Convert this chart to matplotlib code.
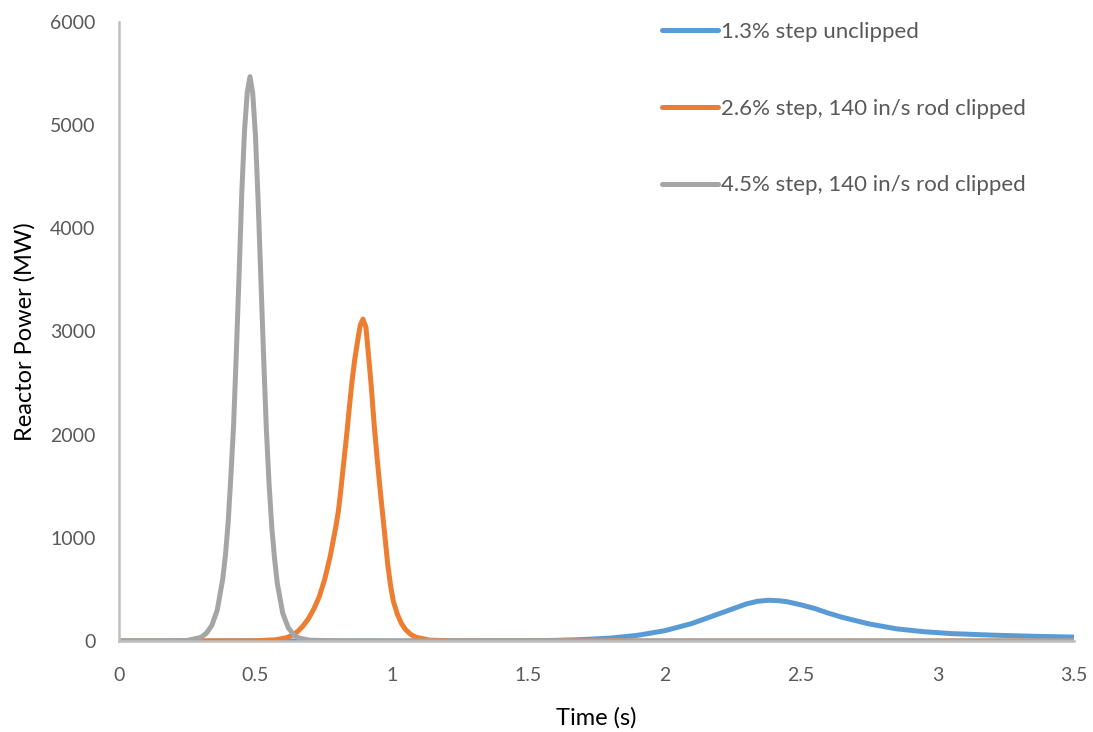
import matplotlib
matplotlib.use('Agg')
import matplotlib.pyplot as plt

# values
t_blue = [0, 1.2, 1.5, 1.6, 1.7, 1.8, 1.9, 2.0, 2.1, 2.2, 2.3, 2.34, 2.38, 2.42, 2.45, 2.5, 2.55,
          2.6, 2.65, 2.75, 2.85, 2.95, 3.05, 3.2, 3.35, 3.5]
p_blue = [0, 1, 3, 6, 14, 28, 55, 100, 170, 265, 360, 385, 395, 390, 380, 350, 315,
          270, 230, 165, 118, 90, 72, 57, 46, 38]

t_orange = [0, 0.5, 0.574, 0.614, 0.634, 0.654, 0.674, 0.694, 0.714, 0.734, 0.754, 0.774,
            0.794, 0.804, 0.814, 0.824, 0.834, 0.844, 0.854, 0.864, 0.874, 0.884, 0.894,
            0.905, 0.915, 0.925, 0.935, 0.945, 0.955, 0.965, 0.975, 0.985, 0.995, 1.005,
            1.02, 1.035, 1.05, 1.07, 1.09, 1.14, 1.25, 3.5]
p_orange = [0, 2, 12, 32, 55, 90, 145, 215, 310, 430, 600, 820,
            1100, 1260, 1490, 1740, 1990, 2260, 2520, 2730, 2900, 3060, 3120,
            3040, 2750, 2450, 2100, 1800, 1520, 1260, 1000, 740, 540, 390,
            260, 170, 111, 62, 35, 8, 1, 0]

t_gray = [0, 0.25, 0.30, 0.32, 0.34, 0.36, 0.38, 0.39, 0.40, 0.41, 0.42, 0.43, 0.44, 0.45,
          0.46, 0.47, 0.48, 0.49, 0.50, 0.51, 0.52, 0.53, 0.54, 0.55, 0.56, 0.57, 0.58,
          0.60, 0.62, 0.64, 0.66, 0.70, 0.80, 1.0, 3.5]
p_gray = [0, 5, 35, 75, 150, 300, 600, 830, 1150, 1600, 2100, 2800, 3550, 4350,
          4950, 5320, 5470, 5310, 4900, 4250, 3500, 2750, 2050, 1520, 1100, 800, 560,
          270, 130, 60, 28, 8, 2, 1, 1]

labels = ['1.3% step unclipped',
          '2.6% step, 140 in/s rod clipped',
          '4.5% step, 140 in/s rod clipped']
colors = ['#5B9BD5', '#ED7D31', '#A5A5A5']
x_ticks = [0, 0.5, 1, 1.5, 2, 2.5, 3, 3.5]
x_tick_labels = ['0', '0.5', '1', '1.5', '2', '2.5', '3', '3.5']
y_ticks = [0, 1000, 2000, 3000, 4000, 5000, 6000]

plt.rcParams['font.family'] = ['Lato', 'DejaVu Sans']

fig = plt.figure(figsize=(10.93, 7.32), dpi=100)
ax = fig.add_axes([0.1089, 0.1243, 0.8737, 0.8457])

lw = 3.6
ax.plot(t_blue, p_blue, color=colors[0], lw=lw, label=labels[0], solid_capstyle='round', solid_joinstyle='round')
ax.plot(t_orange, p_orange, color=colors[1], lw=lw, label=labels[1], solid_capstyle='round', solid_joinstyle='round')
ax.plot(t_gray, p_gray, color=colors[2], lw=lw, label=labels[2], solid_capstyle='round', solid_joinstyle='round')

ax.set_xlim(0, 3.5)
ax.set_ylim(0, 6000)
ax.set_xticks(x_ticks)
ax.set_xticklabels(x_tick_labels)
ax.set_yticks(y_ticks)
ax.tick_params(length=0, labelsize=14, colors='#595959')
ax.tick_params(axis='y', pad=17)
ax.tick_params(axis='x', pad=19)

for s in ['top', 'right']:
    ax.spines[s].set_visible(False)
ax.spines['left'].set_color('#BFBFBF')
ax.spines['left'].set_linewidth(1.8)
ax.spines['bottom'].set_color('#BFBFBF')
ax.spines['bottom'].set_linewidth(1.8)

ax.set_xlabel('Time (s)', fontsize=17, labelpad=16)
ax.set_ylabel('Reactor Power (MW)', fontsize=17, labelpad=10)

leg = ax.legend(loc='upper left', bbox_to_anchor=(0.5686, 1.0), frameon=False,
                fontsize=16, handlelength=2.5, handletextpad=0.15,
                labelspacing=2.55, borderpad=0, borderaxespad=0)
for txt in leg.get_texts():
    txt.set_color('#595959')

plt.savefig('out.png', dpi=100)
plt.close()
